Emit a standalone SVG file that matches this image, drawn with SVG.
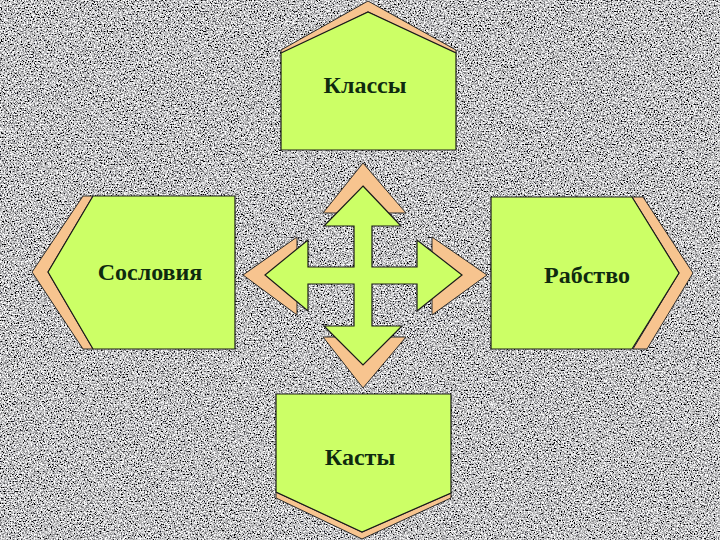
<svg xmlns="http://www.w3.org/2000/svg" width="720" height="540" viewBox="0 0 720 540">
<defs>
<filter id="granite" x="0" y="0" width="100%" height="100%" filterUnits="userSpaceOnUse">
<feTurbulence type="fractalNoise" baseFrequency="0.7" numOctaves="3" seed="7" result="n"/>
<feColorMatrix in="n" type="matrix" values="2.6 0 0 0 -0.76  2.6 0 0 0 -0.76  2.6 0 0 0 -0.75  0 0 0 0 1"/>
</filter>
<style>
.face{fill:#ccff66;stroke:#1a1a1a;stroke-width:1.2}
.bevel{fill:#f7c48f;stroke:#2a2a2a;stroke-width:1}
.lbl{font-family:"Liberation Serif","Times New Roman",serif;font-size:24px;font-weight:bold;fill:#0f2a0f;text-anchor:middle}
</style>
</defs>
<rect x="0" y="0" width="720" height="540" fill="#969696" filter="url(#granite)"/>

<g id="connectors">
<polygon class="bevel" points="363,163 406,213 323,213"/>
<polygon class="bevel" points="243,275 297,237 297,315"/>
<polygon class="bevel" points="487,275 432,237 432,315"/>
<polygon class="bevel" points="363,388 406,337 323,337"/>
<polygon class="face" points="363,186 401,226 372,226 372,267 417,267 417,240 462,275 417,311 417,284 372,284 372,326 402,326 363,365 324,326 354,326 354,284 308,284 308,311 265,275 308,240 308,267 354,267 354,226 324,226"/>
</g>

<g id="node-klassy">
<polygon class="bevel" points="281,50 368,1 456,50 456,54 368,12 281,54"/>
<polygon class="face" points="281,53 368,12 456,53 456,150 281,150"/>
<text class="lbl" x="365" y="93">Классы</text>
</g>

<g id="node-sosloviya">
<polygon class="bevel" points="83,196 93,196 48,272 93,349 83,349 32,272"/>
<polygon class="face" points="93,196 235,196 235,349 93,349 48,272"/>
<text class="lbl" x="150" y="280">Сословия</text>
</g>

<g id="node-rabstvo">
<polygon class="bevel" points="632,197 643,197 693,273 647,349 633,349 679,273"/>
<polygon class="face" points="491,197 632,197 679,273 632,349 491,349"/>
<text class="lbl" x="587" y="283">Рабство</text>
</g>

<g id="node-kasty">
<polygon class="bevel" points="276,492 362,532 451,493 451,498 362,539 276,498"/>
<polygon class="face" points="276,394 451,394 451,493 362,532 276,492"/>
<text class="lbl" x="360" y="465">Касты</text>
</g>
</svg>
